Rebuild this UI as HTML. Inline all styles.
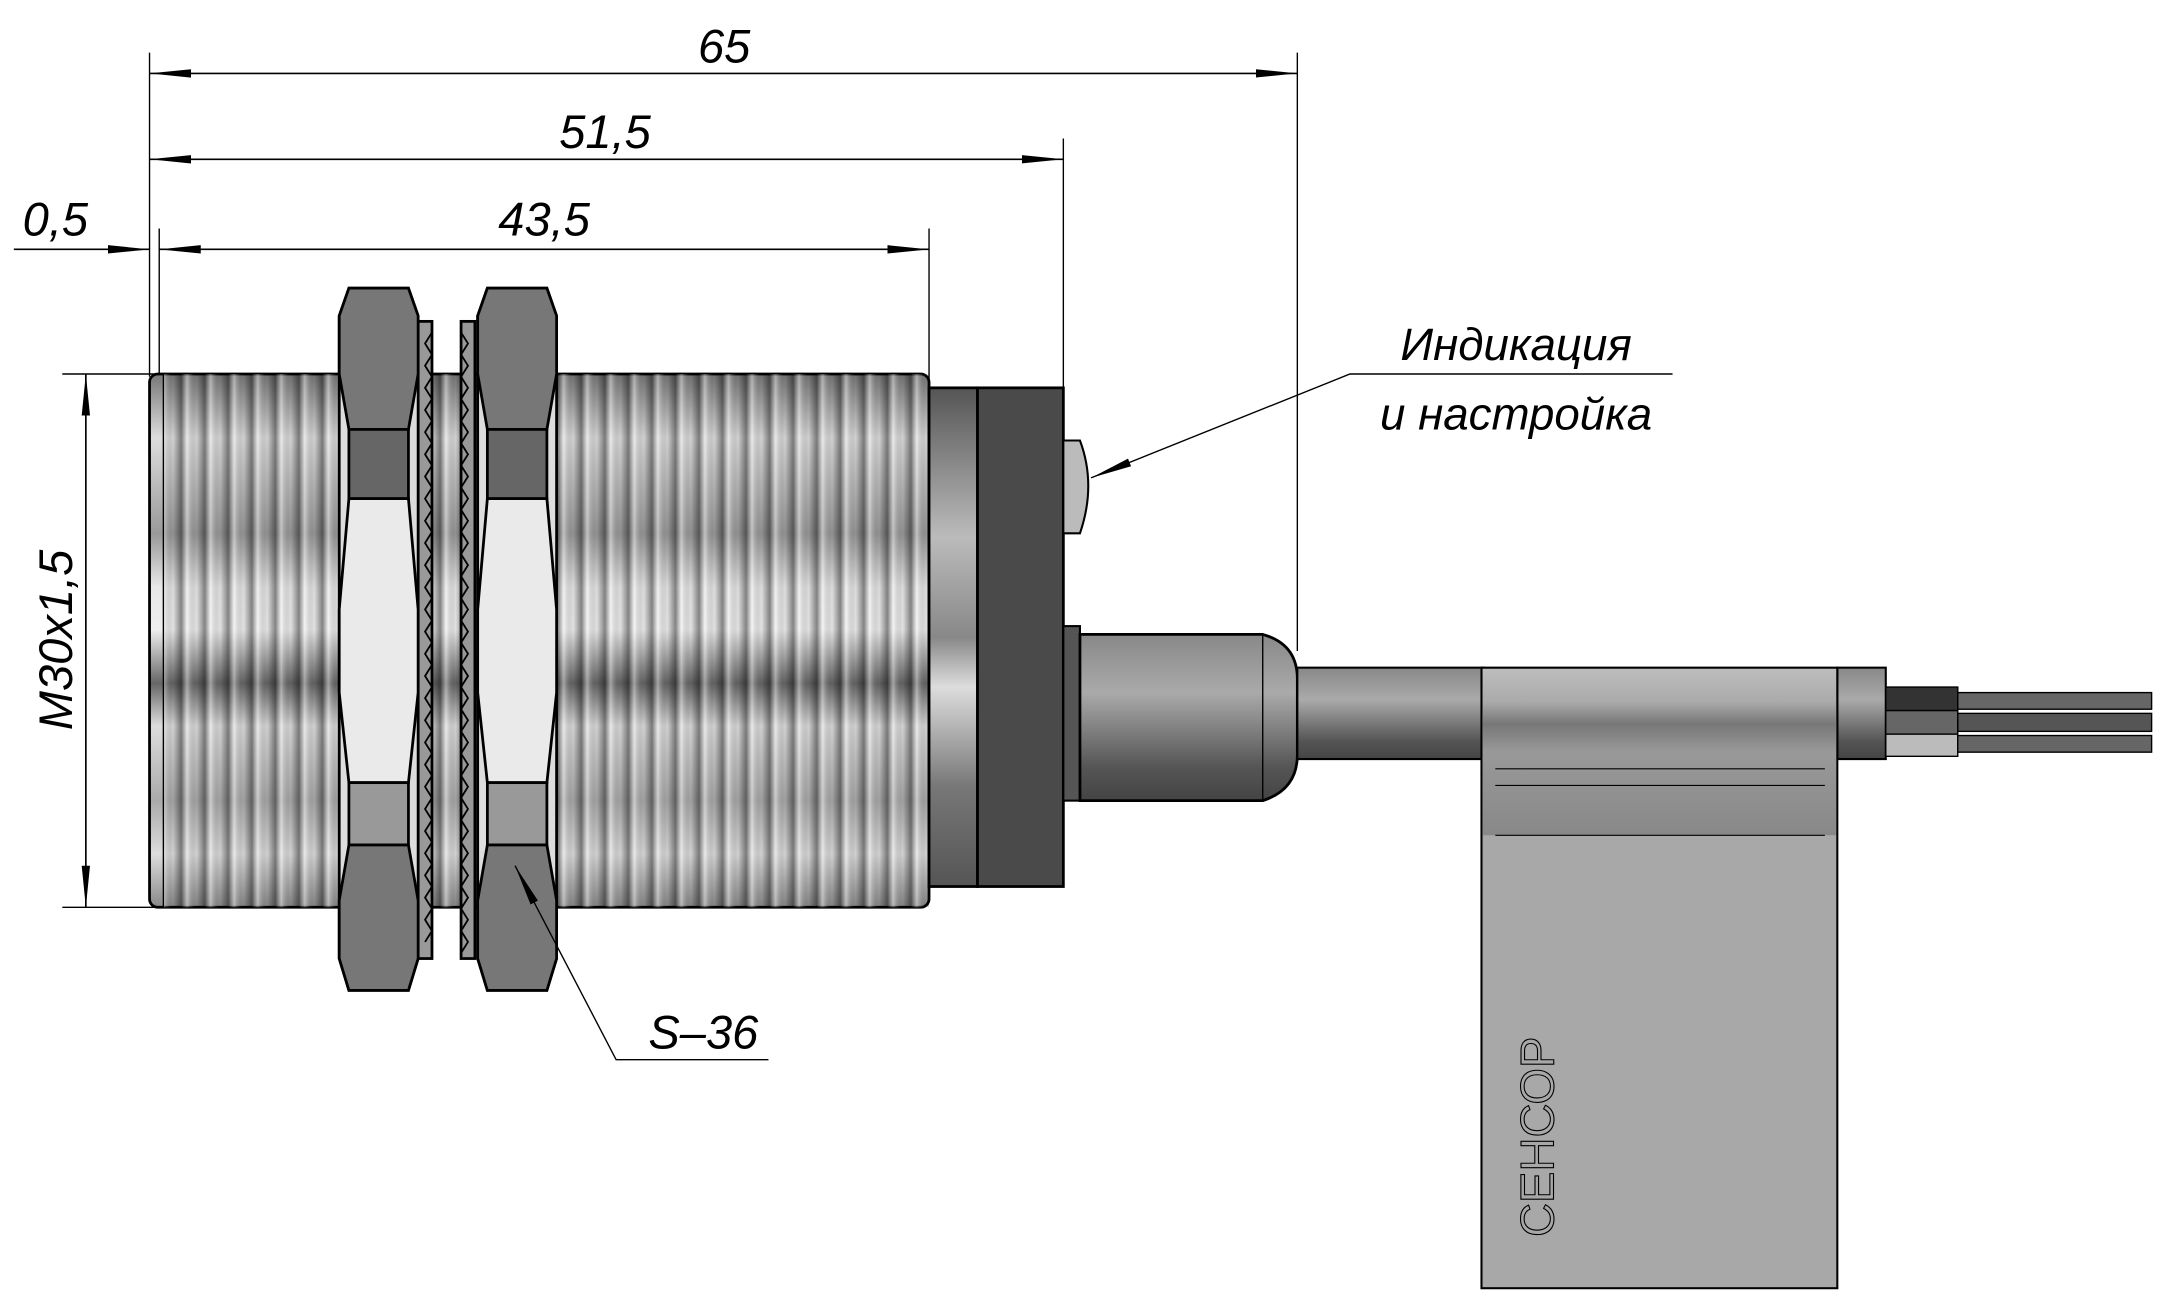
<!DOCTYPE html>
<html><head><meta charset="utf-8"><style>html,body{margin:0;padding:0;background:#fff}svg{display:block}</style></head>
<body>
<svg width="2171" height="1309" viewBox="0 0 1568 945" preserveAspectRatio="none" xmlns="http://www.w3.org/2000/svg">
<defs>
<linearGradient id="body" x1="0" y1="0" x2="0" y2="1">
<stop offset="0" stop-color="#777"/><stop offset="0.12" stop-color="#ddd"/><stop offset="0.3" stop-color="#999"/><stop offset="0.4" stop-color="#e8e8e8"/><stop offset="0.48" stop-color="#eee"/><stop offset="0.58" stop-color="#666"/><stop offset="0.66" stop-color="#ddd"/><stop offset="0.8" stop-color="#aaa"/><stop offset="0.9" stop-color="#ddd"/><stop offset="1" stop-color="#888"/>
</linearGradient>
<linearGradient id="rib" x1="0" y1="0" x2="1" y2="0">
<stop offset="0" stop-color="#000" stop-opacity="0.05"/><stop offset="0.35" stop-color="#000" stop-opacity="0.45"/><stop offset="0.6" stop-color="#fff" stop-opacity="0.4"/><stop offset="1" stop-color="#000" stop-opacity="0.05"/>
</linearGradient>
<pattern id="ribs" width="17" height="10" patternUnits="userSpaceOnUse" x="108"><rect width="17" height="10" fill="url(#rib)"/></pattern>
<linearGradient id="cap" x1="0" y1="0" x2="0" y2="1">
<stop offset="0" stop-color="#555"/><stop offset="0.3" stop-color="#bbb"/><stop offset="0.5" stop-color="#888"/><stop offset="0.6" stop-color="#ddd"/><stop offset="0.8" stop-color="#777"/><stop offset="1" stop-color="#555"/>
</linearGradient>
<linearGradient id="cyl" x1="0" y1="0" x2="0" y2="1">
<stop offset="0" stop-color="#888"/><stop offset="0.35" stop-color="#aaa"/><stop offset="0.8" stop-color="#555"/><stop offset="1" stop-color="#444"/>
</linearGradient>
<linearGradient id="tag" x1="0" y1="0" x2="0" y2="1">
<stop offset="0" stop-color="#bdbdbd"/><stop offset="0.2" stop-color="#aaa"/><stop offset="0.33" stop-color="#777"/><stop offset="0.5" stop-color="#999"/><stop offset="1" stop-color="#888"/>
</linearGradient>
<marker id="arl" markerWidth="30" markerHeight="8" refX="30" refY="4" orient="auto-start-reverse" markerUnits="userSpaceOnUse"><path d="M0,1 L30,4 L0,7z" fill="#000"/></marker>
</defs>

<g stroke="#000" stroke-width="1" fill="none">
<line x1="108" y1="38" x2="108" y2="272"/>
<line x1="115" y1="165" x2="115" y2="272"/>
<line x1="937" y1="38" x2="937" y2="470"/>
<line x1="768" y1="100" x2="768" y2="285"/>
<line x1="671" y1="165" x2="671" y2="275"/>
<line x1="45" y1="270" x2="125" y2="270"/>
<line x1="45" y1="655" x2="125" y2="655"/>
</g>
<g stroke="#000" stroke-width="1.2" fill="none">
<line x1="108" y1="53" x2="937" y2="53" marker-start="url(#arl)" marker-end="url(#arl)"/>
<line x1="108" y1="115" x2="768" y2="115" marker-start="url(#arl)" marker-end="url(#arl)"/>
<line x1="115" y1="180" x2="671" y2="180" marker-start="url(#arl)" marker-end="url(#arl)"/>
<line x1="10" y1="180" x2="108" y2="180" marker-end="url(#arl)"/>
<line x1="62" y1="270" x2="62" y2="655" marker-start="url(#arl)" marker-end="url(#arl)"/>
</g>
<g font-family="Liberation Sans, DejaVu Sans, sans-serif" font-style="italic" font-size="34" fill="#000">
<text x="523" y="45" text-anchor="middle">65</text>
<text x="437" y="107" text-anchor="middle">51,5</text>
<text x="393" y="170" text-anchor="middle">43,5</text>
<text x="40" y="170" text-anchor="middle">0,5</text>
<text transform="translate(52,462) rotate(-90)" text-anchor="middle">M30x1,5</text>
<text x="1095" y="260" text-anchor="middle" font-size="33">Индикация</text>
<text x="1095" y="310" text-anchor="middle" font-size="33">и настройка</text>
<text x="508" y="757" text-anchor="middle">S–36</text>
</g>

<rect x="108" y="270" width="563" height="385" fill="url(#body)" stroke="#000" stroke-width="2" rx="6"/>
<rect x="118" y="270" width="553" height="385" fill="url(#ribs)"/>
<line x1="118" y1="270" x2="118" y2="655" stroke="#000"/>

<rect x="302" y="232" width="10" height="460" fill="#999" stroke="#000" stroke-width="2"/>
<rect x="333" y="232" width="10" height="460" fill="#999" stroke="#000" stroke-width="2"/>
<path d="M312,240 l-5,8 l5,8 l-5,8 l5,8 l-5,8 l5,8 l-5,8 l5,8 l-5,8 l5,8 l-5,8 l5,8 l-5,8 l5,8 l-5,8 l5,8 l-5,8 l5,8 l-5,8 l5,8 l-5,8 l5,8 l-5,8 l5,8 l-5,8 l5,8 l-5,8 l5,8 l-5,8 l5,8 l-5,8 l5,8 l-5,8 l5,8 l-5,8 l5,8 l-5,8 l5,8 l-5,8 l5,8 l-5,8 l5,8 l-5,8 l5,8 l-5,8 l5,8 l-5,8 l5,8 l-5,8 l5,8 l-5,8 l5,8 l-5,8 l5,8 l-5,8" fill="none" stroke="#000" stroke-width="1.3"/>
<path d="M333,240 l5,8 l-5,8 l5,8 l-5,8 l5,8 l-5,8 l5,8 l-5,8 l5,8 l-5,8 l5,8 l-5,8 l5,8 l-5,8 l5,8 l-5,8 l5,8 l-5,8 l5,8 l-5,8 l5,8 l-5,8 l5,8 l-5,8 l5,8 l-5,8 l5,8 l-5,8 l5,8 l-5,8 l5,8 l-5,8 l5,8 l-5,8 l5,8 l-5,8 l5,8 l-5,8 l5,8 l-5,8 l5,8 l-5,8 l5,8 l-5,8 l5,8 l-5,8 l5,8 l-5,8 l5,8 l-5,8 l5,8 l-5,8 l5,8 l-5,8 l5,8 l-5,8" fill="none" stroke="#000" stroke-width="1.3"/>

<g stroke="#000" stroke-width="2">
<g>
<path d="M252,208 L295,208 L302,228 L302,692 L295,715 L252,715 L245,692 L245,228z" fill="#ddd"/>
<path d="M252,208 L295,208 L302,228 L302,270 L295,310 L252,310 L245,270 L245,228z" fill="#777"/>
<rect x="252" y="310" width="43" height="50" fill="#666"/>
<path d="M252,360 L295,360 L302,440 L302,500 L295,565 L252,565 L245,500 L245,440z" fill="#eaeaea"/>
<rect x="252" y="565" width="43" height="45" fill="#999"/>
<path d="M252,610 L295,610 L302,650 L302,692 L295,715 L252,715 L245,692 L245,650z" fill="#777"/>
</g>
<g transform="translate(100,0)">
<path d="M252,208 L295,208 L302,228 L302,692 L295,715 L252,715 L245,692 L245,228z" fill="#ddd"/>
<path d="M252,208 L295,208 L302,228 L302,270 L295,310 L252,310 L245,270 L245,228z" fill="#777"/>
<rect x="252" y="310" width="43" height="50" fill="#666"/>
<path d="M252,360 L295,360 L302,440 L302,500 L295,565 L252,565 L245,500 L245,440z" fill="#eaeaea"/>
<rect x="252" y="565" width="43" height="45" fill="#999"/>
<path d="M252,610 L295,610 L302,650 L302,692 L295,715 L252,715 L245,692 L245,650z" fill="#777"/>
</g>
</g>

<rect x="671" y="280" width="35" height="360" fill="url(#cap)" stroke="#000" stroke-width="2"/>
<rect x="706" y="280" width="62" height="360" fill="#4a4a4a" stroke="#000" stroke-width="2"/>
<path d="M768,318 L780,318 Q792,350 780,385 L768,385z" fill="#bbb" stroke="#000" stroke-width="1.5"/>
<rect x="768" y="452" width="12" height="126" fill="#555" stroke="#000" stroke-width="1.5"/>
<path d="M780,458 L912,458 Q937,465 937,490 L937,545 Q937,570 912,578 L780,578z" fill="url(#cyl)" stroke="#000" stroke-width="2"/>
<line x1="912" y1="458" x2="912" y2="578" stroke="#000"/>
<rect x="937" y="482" width="135" height="66" fill="url(#cyl)" stroke="#000" stroke-width="1.5"/>
<rect x="1327" y="482" width="35" height="66" fill="url(#cyl)" stroke="#000" stroke-width="1.5"/>
<rect x="1362" y="496" width="52" height="17" fill="#333" stroke="#000"/>
<rect x="1362" y="513" width="52" height="17" fill="#666" stroke="#000"/>
<rect x="1362" y="530" width="52" height="16" fill="#bbb" stroke="#000"/>
<rect x="1414" y="500" width="140" height="12" fill="#666" stroke="#000"/>
<rect x="1414" y="515" width="140" height="13" fill="#555" stroke="#000"/>
<rect x="1414" y="531" width="140" height="12" fill="#666" stroke="#000"/>
<rect x="1070" y="482" width="257" height="448" fill="#a8a8a8" stroke="#000" stroke-width="1.5"/>
<rect x="1071" y="483" width="255" height="120" fill="url(#tag)"/>
<g stroke="#000" stroke-width="0.8"><line x1="1080" y1="555" x2="1318" y2="555"/><line x1="1080" y1="567" x2="1318" y2="567"/><line x1="1080" y1="603" x2="1318" y2="603"/></g>
<text transform="translate(1122,893) rotate(-90)" font-family="Liberation Sans, DejaVu Sans, sans-serif" font-size="34" fill="none" stroke="#000" stroke-width="0.8">СЕНСОР</text>

<g stroke="#000" stroke-width="1" fill="none">
<polyline points="1208,270 975,270 788,345" marker-end="url(#arl)"/>
<polyline points="555,765 445,765 372,625" marker-end="url(#arl)"/>
</g>
</svg>
</body></html>
